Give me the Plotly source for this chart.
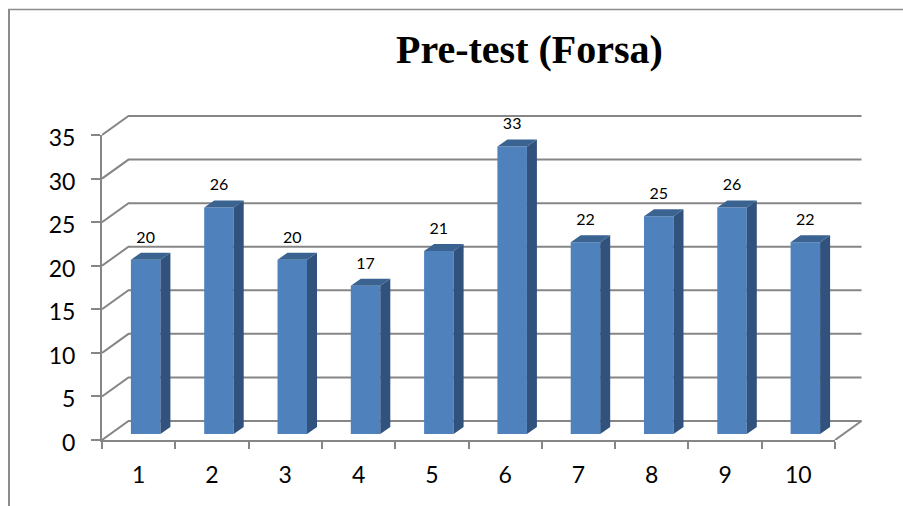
import plotly.graph_objects as go

# Data
categories = [1, 2, 3, 4, 5, 6, 7, 8, 9, 10]
values = [20, 26, 20, 17, 21, 33, 22, 25, 26, 22]
y_ticks = [0, 5, 10, 15, 20, 25, 30, 35]
title_text = "Pre-test (Forsa)"

# Canvas and plot box (page pixels)
W, H = 903, 506
L, R, T, B = 102, 835, 135, 440
EXT_R, EXT_T = 880, 100          # larger box holding the pseudo-3D wall and bars
PX_X = (R - L) / 10
PX_Y = (B - T) / 35

# Pseudo-3D offsets expressed in axis units
WALL_DX, WALL_DY = 26.5 / PX_X, 19 / PX_Y
BAR_DX, BAR_DY = 7 / PX_X, 6 / PX_Y
BAR_W = 29.5 / PX_X
SIDE_DX, SIDE_DY = 10 / PX_X, 7 / PX_Y
LABEL_DY = 21 / PX_Y

GRAY = "#868686"
FRONT = "#4F81BD"
SIDE = "#30527C"
TOP = "#3B6391"

x0, x1 = 0.5, 10.5
ext_x = [x0, x0 + (EXT_R - L) / PX_X]
ext_y = [0, (B - EXT_T) / PX_Y]

fig = go.Figure()

# Invisible trace so the visible axes (ticks, labels, axis lines) are drawn
fig.add_trace(go.Scatter(x=categories, y=values, mode="none", hoverinfo="skip", showlegend=False))

# Back wall gridlines and floor
gx, gy = [], []
for v in y_ticks:
    gx += [x0, x0 + WALL_DX, x1 + WALL_DX, None]
    gy += [v, v + WALL_DY, v + WALL_DY, None]
gx += [x1, x1 + WALL_DX]
gy += [0, WALL_DY]
fig.add_trace(go.Scatter(x=gx, y=gy, mode="lines", line=dict(color=GRAY, width=2),
                         xaxis="x2", yaxis="y2", hoverinfo="skip", showlegend=False))

# Front faces
fig.add_trace(go.Bar(x=[c + BAR_DX for c in categories], y=values, base=BAR_DY, width=BAR_W,
                     marker=dict(color=FRONT, line=dict(width=0)), xaxis="x3", yaxis="y3",
                     showlegend=False))

# Side and top faces
sx, sy, tx, ty = [], [], [], []
for c, v in zip(categories, values):
    a = c + BAR_DX - BAR_W / 2
    b = c + BAR_DX + BAR_W / 2
    sx += [b, b + SIDE_DX, b + SIDE_DX, b, b, None]
    sy += [BAR_DY, BAR_DY + SIDE_DY, BAR_DY + SIDE_DY + v, BAR_DY + v, BAR_DY, None]
    tx += [a, a + SIDE_DX, b + SIDE_DX, b, a, None]
    ty += [BAR_DY + v, BAR_DY + v + SIDE_DY, BAR_DY + v + SIDE_DY, BAR_DY + v, BAR_DY + v, None]
for xs, ys, col in ((sx, sy, SIDE), (tx, ty, TOP)):
    fig.add_trace(go.Scatter(x=xs, y=ys, mode="lines", fill="toself", fillcolor=col,
                             line=dict(width=0, color=col), xaxis="x3", yaxis="y3",
                             hoverinfo="skip", showlegend=False))

# Data labels
fig.add_trace(go.Scatter(x=[c + BAR_DX for c in categories],
                         y=[v + BAR_DY + LABEL_DY for v in values],
                         mode="text", text=[str(v) for v in values], textposition="middle center",
                         textfont=dict(family="Lato", size=16, color="#000000"),
                         xaxis="x3", yaxis="y3", hoverinfo="skip", showlegend=False))

dom_x = [L / W, R / W]
dom_y = [1 - B / H, 1 - T / H]
dom_x_ext = [L / W, EXT_R / W]
dom_y_ext = [1 - B / H, 1 - EXT_T / H]
hidden = dict(visible=False, automargin=False, showgrid=False, zeroline=False)
fig.update_layout(
    template="none",
    width=W, height=H, margin=dict(l=0, r=0, t=0, b=0, pad=0),
    paper_bgcolor="white", plot_bgcolor="rgba(0,0,0,0)", showlegend=False,
    font=dict(family="Lato", color="#000000"),
    xaxis=dict(domain=dom_x, range=[x0, x1], tickmode="array", tickvals=categories,
               ticktext=[str(c) for c in categories], ticks="outside", ticklen=13,
               tickcolor="rgba(0,0,0,0)", tickfont=dict(size=23), showgrid=False, zeroline=False,
               showline=True, linecolor=GRAY, linewidth=2, automargin=False,
               minor=dict(tickmode="array", tickvals=[c - 0.5 for c in categories] + [x1],
                          ticks="outside", ticklen=7, tickcolor=GRAY, tickwidth=2, showgrid=False)),
    yaxis=dict(domain=dom_y, range=[0, 35], tickmode="array", tickvals=y_ticks, ticks="outside",
               ticklen=9, tickcolor=GRAY, tickwidth=2, tickfont=dict(size=23), showgrid=False,
               ticklabelstandoff=11, ticklabelshift=3,
               zeroline=False, showline=True, linecolor=GRAY, linewidth=2, automargin=False),
    xaxis2=dict(domain=dom_x_ext, range=ext_x, anchor="y2", **hidden),
    yaxis2=dict(domain=dom_y_ext, range=ext_y, anchor="x2", **hidden),
    xaxis3=dict(range=ext_x, overlaying="x2", anchor="y3", **hidden),
    yaxis3=dict(range=ext_y, overlaying="y2", anchor="x3", **hidden),
    annotations=[dict(text="<b>%s</b>" % title_text, xref="paper", yref="paper",
                      x=529.5 / W, y=1 - 50 / H, showarrow=False, xanchor="center", yanchor="middle",
                      font=dict(family="Liberation Serif", size=40, color="#000000"))],
    shapes=[dict(type="line", xref="paper", yref="paper", x0=9 / W, x1=9 / W, y0=0, y1=1 - 9 / H,
                 line=dict(color="#8C8C8C", width=2)),
            dict(type="line", xref="paper", yref="paper", x0=8 / W, x1=1, y0=1 - 9.5 / H, y1=1 - 9.5 / H,
                 line=dict(color="#8C8C8C", width=1.5))],
)

fig.write_html("out.html", config=dict(displayModeBar=False),
               post_script="document.body.style.margin='0';")
